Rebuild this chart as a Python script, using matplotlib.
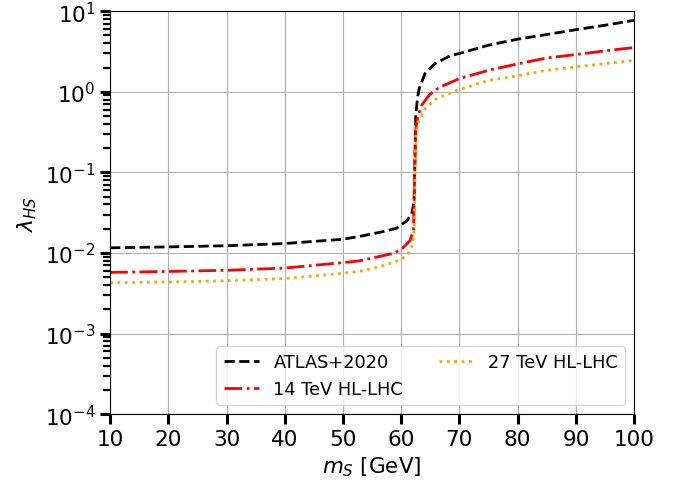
import numpy as np
import matplotlib
matplotlib.use('Agg')
import matplotlib.pyplot as plt

# Valores (m_S en GeV, lambda_HS)
m_atlas = [10, 20, 30, 40, 50, 53.5, 56.4, 59.2, 61.0, 61.8, 62.2, 62.5, 62.8, 63.1, 64.1, 65.8, 68.4, 70, 75, 80, 85, 90, 95, 100]
l_atlas = [0.0116, 0.0119, 0.0123, 0.0131, 0.0148, 0.0164, 0.0181, 0.0203, 0.0252, 0.0305, 0.0427, 0.5, 0.85, 1.1, 1.69, 2.24, 2.8, 2.99, 3.79, 4.5, 5.14, 5.9, 6.7, 7.7]

m_14 = [10, 20, 30, 40, 50, 52.9, 56.4, 58.7, 60.1, 61.5, 62.1, 62.5, 62.8, 63.5, 64.8, 66.4, 70, 75, 80, 85, 90, 95, 100]
l_14 = [0.00575, 0.0059, 0.0061, 0.0065, 0.0076, 0.0080, 0.0091, 0.0099, 0.0112, 0.0142, 0.0189, 0.35, 0.47, 0.68, 0.91, 1.12, 1.46, 1.85, 2.22, 2.63, 2.9, 3.22, 3.55]

m_27 = [10, 20, 30, 40, 50, 53.5, 56.9, 59.5, 61.0, 61.8, 62.2, 62.5, 62.8, 64.1, 65.8, 67.0, 70, 75, 80, 85, 90, 95, 100]
l_27 = [0.00428, 0.00437, 0.00452, 0.00482, 0.00560, 0.00603, 0.00696, 0.00803, 0.00927, 0.0117, 0.0164, 0.30, 0.40, 0.62, 0.80, 0.88, 1.07, 1.39, 1.58, 1.85, 2.04, 2.24, 2.45]

x_ticks = [10, 20, 30, 40, 50, 60, 70, 80, 90, 100]

fig = plt.figure(figsize=(6.84, 4.89), dpi=100)
ax = fig.add_axes([0.161, 0.151, 0.766, 0.824])

ax.plot(m_atlas, l_atlas, color='black', linestyle='--', lw=2, label='ATLAS+2020')
ax.plot(m_14, l_14, color='red', linestyle='-.', lw=2, label='14 TeV HL-LHC')
ax.plot(m_27, l_27, color='orange', linestyle=':', lw=2, label='27 TeV HL-LHC')

ax.set_yscale('log')
ax.set_xlim(10, 100)
ax.set_ylim(1e-4, 1e1)
ax.set_xticks(x_ticks)
ax.grid(True, which='major', color='#b0b0b0', lw=0.8)

ax.tick_params(which='major', length=7, width=2.2, labelsize=15.5)
ax.tick_params(which='minor', length=5, width=1.6)

ax.set_xlabel('$m_S$ [GeV]', fontsize=15.5)
ax.set_ylabel('$\\lambda_{HS}$', fontsize=15.5)

ax.legend(loc='lower right', ncol=2, fontsize=12.8, framealpha=0.8)

plt.savefig('out.png', dpi=100)
